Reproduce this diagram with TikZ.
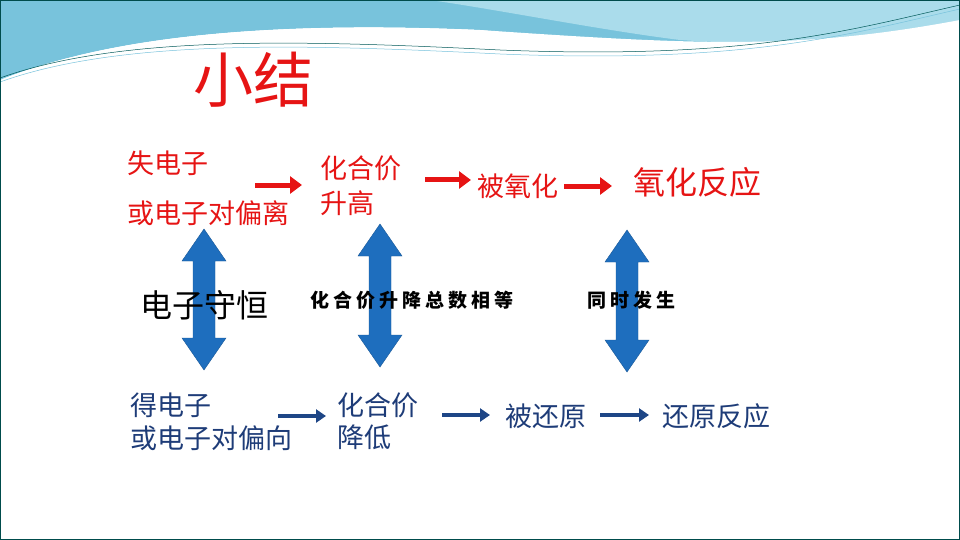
\documentclass[tikz,border=0pt]{standalone}
\usepackage{fontspec}
\newfontfamily\cjk{Noto Sans CJK SC}
\newfontfamily\cjkb{Noto Sans CJK SC Black}
\usetikzlibrary{arrows.meta}
\definecolor{redc}{RGB}{230,20,20}
\definecolor{bluet}{RGB}{30,60,120}
\definecolor{arrowb}{RGB}{30,110,190}
\definecolor{sky}{RGB}{120,195,220}
\definecolor{skyl}{RGB}{170,220,235}
\tikzset{
 rt/.style={text=redc,font=\cjk\fontsize{27}{30}\selectfont,anchor=west,inner sep=0},
 bt/.style={text=bluet,font=\cjk\fontsize{27}{30}\selectfont,anchor=west,inner sep=0},
 rarr/.style={draw=redc,line width=5pt,-{Triangle[length=12pt,width=17pt]}},
 barr/.style={draw=bluet!80!arrowb,line width=3.5pt,-{Triangle[length=10pt,width=13pt]}},
 dbl/.style={fill=arrowb,draw=arrowb!80!black,line width=0.4pt},
 mid/.style={anchor=west,inner sep=0,font=\cjkb\fontsize{19}{22}\selectfont}
}
\newcommand{\dblarrow}[3]{% x, top, bottom
 \fill[dbl] (#1,#2) -- (#1+22,#2+32) -- (#1+11,#2+32) -- (#1+11,#3-32) -- (#1+22,#3-32) -- (#1,#3) -- (#1-22,#3-32) -- (#1-11,#3-32) -- (#1-11,#2+32) -- (#1-22,#2+32) -- cycle;}
\begin{document}
\begin{tikzpicture}[x=1pt,y=-1pt]
\useasboundingbox (0,0) rectangle (960,540);
\fill[white] (0,0) rectangle (960,540);
% banner
\fill[sky] (0,0) -- (960,0) -- (960,20) .. controls (800,60) and (700,50) .. (480,30) .. controls (250,20) and (100,40) .. (0,80) -- cycle;
\fill[skyl] (430,0) -- (960,0) -- (960,25) .. controls (850,45) and (750,45) .. (680,40) .. controls (600,30) and (500,10) .. (430,0) -- cycle;
\fill[white] (0,80) .. controls (100,40) and (250,20) .. (480,30) .. controls (700,45) and (800,50) .. (960,20) -- (960,28) .. controls (800,60) and (700,55) .. (480,40) .. controls (250,30) and (100,50) .. (0,80) -- cycle;
\draw[teal!70!black,line width=0.5pt] (0,78) .. controls (120,35) and (300,40) .. (500,50) .. controls (750,60) and (850,30) .. (960,5);
\draw[sky,line width=0.5pt] (0,82) .. controls (120,39) and (300,44) .. (500,54) .. controls (750,64) and (850,34) .. (960,9);
\draw[teal!60!black,line width=1.2pt] (0.6,0.6) rectangle (959.4,539.4);
% title
\node[text=redc,font=\cjk\fontsize{60}{66}\selectfont,anchor=west,inner sep=0] (title) at (193,80) {小结};
% double arrows
\dblarrow{204}{229}{370}
\dblarrow{380}{224}{367}
\dblarrow{627}{230}{372}
% top row
\node[rt] (t1) at (127,163) {失电子};
\node[rt] (t2) at (127,213) {或电子对偏离};
\node[rt] (t3) at (320,168) {化合价};
\node[rt] (t4) at (320,203) {升高};
\node[rt] (t5) at (477,186) {被氧化};
\node[rt,font=\cjk\fontsize{32}{36}\selectfont] (t6) at (633,182) {氧化反应};
\coordinate (a1s) at (255,185); \coordinate (a1e) at (302,185);
\coordinate (a2s) at (425,180); \coordinate (a2e) at (471,180);
\coordinate (a3s) at (564,186); \coordinate (a3e) at (612,186);
\draw[rarr] (a1s) -- (a1e);
\draw[rarr] (a2s) -- (a2e);
\draw[rarr] (a3s) -- (a3e);
% middle
\node[anchor=west,inner sep=0,font=\cjk\fontsize{32}{36}\selectfont] (m1) at (140,305) {电子守恒};
\node[mid] (m2) at (310,300) {化\hspace{4pt}合\hspace{4pt}价\hspace{4pt}升\hspace{4pt}降\hspace{4pt}总\hspace{4pt}数\hspace{4pt}相\hspace{4pt}等};
\node[mid] (m3) at (587,300) {同\hspace{4pt}时\hspace{4pt}发\hspace{4pt}生};
% bottom
\node[bt] (b1) at (130,405) {得电子};
\node[bt] (b2) at (130,438) {或电子对偏向};
\node[bt] (b3) at (337,405) {化合价};
\node[bt] (b4) at (337,437) {降低};
\node[bt] (b5) at (505,416) {被还原};
\node[bt] (b6) at (662,416) {还原反应};
\coordinate (c1s) at (278,416); \coordinate (c1e) at (326,416);
\coordinate (c2s) at (442,415); \coordinate (c2e) at (490,415);
\coordinate (c3s) at (600,415); \coordinate (c3e) at (649,415);
\draw[barr] (c1s) -- (c1e);
\draw[barr] (c2s) -- (c2e);
\draw[barr] (c3s) -- (c3e);
\end{tikzpicture}
\end{document}
